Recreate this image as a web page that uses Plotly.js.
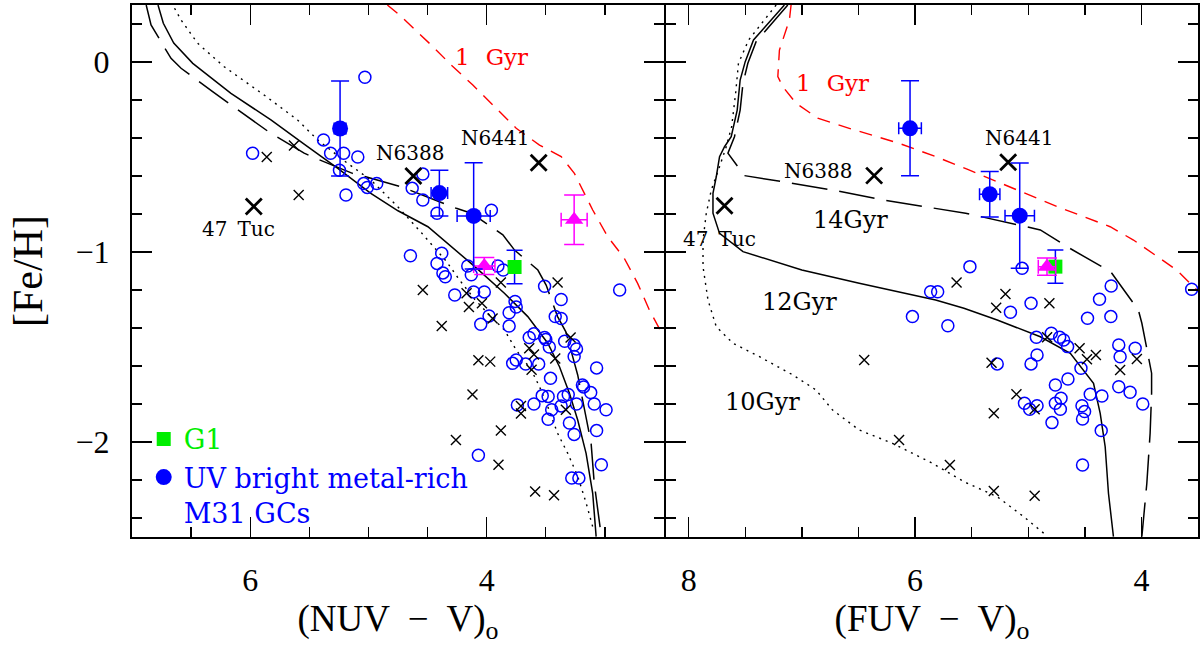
<!DOCTYPE html>
<html>
<head>
<meta charset="utf-8">
<script src="https://cdn.plot.ly/plotly-3.0.1.min.js"></script>
<style>html,body{margin:0;padding:0;background:#fff;}#chart{width:1203px;height:645px;}</style>
</head>
<body>
<div id="chart"></div>
<script>
// ---------- Left panel: (NUV - V)o ----------
const nuvOpenX = [5.03,5.38,5.98,5.32,5.21,5.09,5.245,5.04,5.01,4.93,5.19,
  4.54,4.63,4.54,4.42,3.96,4.645,4.38,4.42,4.16,4.13,3.905,3.86,4.37,4.35,
  4.27,4.11,4.02,3.76,3.75,3.81,3.81,3.98,4.05,3.51,3.37,3.42,3.37,2.875,3.64,3.60,3.51,3.50,
  3.47,3.34,3.26,3.24,3.26,3.07,3.75,3.78,3.67,3.56,3.46,3.19,3.18,3.12,3.53,3.48,3.35,3.31,
  3.24,3.09,2.99,3.60,3.74,3.45,3.37,3.48,3.30,3.26,3.07,4.07,3.03,3.28,3.22];
const nuvOpenY = [-0.08,-0.41,-0.48,-0.48,-0.48,-0.50,-0.57,-0.64,-0.66,-0.64,-0.70,
  -0.59,-0.665,-0.726,-0.796,-0.78,-1.02,-1.007,-1.06,-1.074,-1.12,-1.074,-1.095,-1.11,-1.13,
  -1.226,-1.21,-1.21,-1.26,-1.29,-1.32,-1.39,-1.337,-1.38,-1.18,-1.25,-1.34,-1.35,-1.20,-1.45,-1.43,-1.45,-1.46,
  -1.50,-1.47,-1.49,-1.51,-1.55,-1.61,-1.568,-1.586,-1.59,-1.59,-1.665,-1.70,-1.71,-1.74,-1.756,-1.76,-1.76,-1.75,
  -1.80,-1.80,-1.83,-1.80,-1.805,-1.83,-1.81,-1.88,-1.90,-1.96,-1.94,-2.07,-2.12,-2.19,-2.19];
const nuvCrossX = [5.86,5.63,5.59,4.54,4.17,4.15,4.04,3.88,3.95,4.38,3.40,3.29,4.07,3.97,3.64,3.60,3.62,3.42,4.12,3.71,3.71,3.33,3.88,4.26,3.90,3.59,3.43];
const nuvCrossY = [-0.50,-0.44,-0.70,-1.20,-1.217,-1.29,-1.27,-1.16,-1.35,-1.39,-1.16,-1.45,-1.57,-1.577,-1.507,-1.54,-1.62,-1.56,-1.75,-1.81,-1.85,-1.83,-1.94,-1.99,-2.12,-2.26,-2.28];
const clusterNames = ['47\u2002Tuc','N6388','N6441'];
const nuvClusterX = [5.97,4.62,3.56];
const nuvClusterY = [-0.76,-0.60,-0.53];
const nuvLabelX = [6.10,4.65,3.93];
const nuvLabelY = [-0.88,-0.48,-0.40];
const nuvBrightX = [5.24,4.40,4.11];
const nuvBrightY = [-0.35,-0.69,-0.81];
const nuvBrightEx = [0.05,0.07,0.14];
const nuvBrightEy = [0.25,0.12,0.28];
const nuvMagX = [3.26,4.02];
const nuvMagY = [-0.83,-1.074];
const nuvMagEx = [0.11,0.09];
const nuvMagEy = [0.13,0.045];
const nuvG1X = [3.764], nuvG1Y = [-1.079], nuvG1Ey = [0.088];

const nuv12X = [6.78,6.735,6.647,6.486,6.163,5.825,5.544,5.262,4.98,4.75,4.497,4.10,3.85,3.652,3.483,3.384,3.30,3.23,3.159,3.103,3.074];
const nuv12Y = [0.30,0.204,0.10,-0.007,-0.165,-0.305,-0.432,-0.559,-0.691,-0.783,-0.867,-1.077,-1.217,-1.34,-1.48,-1.604,-1.744,-1.884,-2.06,-2.27,-2.498];
const nuv14X = [6.88,6.839,6.67,6.585,6.318,6.22,5.94,5.845,5.544,5.445,5.135,5.023,4.727,4.257,4.13,3.863,3.764,3.567,3.497,3.40,3.33,3.23,3.117,3.09,3.03];
const nuv14Y = [0.30,0.195,0.019,-0.033,-0.156,-0.20,-0.323,-0.367,-0.48,-0.507,-0.586,-0.604,-0.656,-0.77,-0.796,-0.91,-0.99,-1.095,-1.174,-1.34,-1.42,-1.647,-2.004,-2.217,-2.498];
const nuv10X = [6.64,6.585,6.444,6.22,5.882,5.60,5.43,5.177,4.98,4.75,4.55,4.34,4.23,4.10,3.99,3.85,3.75,3.623,3.553,3.483,3.40,3.314,3.23,3.159,3.103];
const nuv10Y = [0.283,0.221,0.098,-0.025,-0.174,-0.305,-0.41,-0.533,-0.621,-0.763,-0.90,-1.05,-1.147,-1.25,-1.323,-1.41,-1.516,-1.62,-1.709,-1.814,-1.954,-2.06,-2.18,-2.32,-2.446];
const nuv1X = [4.84,4.736,4.455,4.30,4.117,3.933,3.75,3.553,3.37,3.258,3.103,2.976,2.836,2.723,2.624,2.51];
const nuv1Y = [0.30,0.247,0.081,-0.016,-0.121,-0.235,-0.349,-0.437,-0.498,-0.586,-0.779,-0.919,-1.033,-1.165,-1.305,-1.437];

// ---------- Right panel: (FUV - V)o ----------
const fuvOpenX = [5.515,5.054,5.862,5.80,5.71,5.157,4.975,4.476,4.37,4.267,4.27,3.556,5.274,4.975,4.922,4.928,4.796,4.722,4.687,4.652,
  4.534,4.20,4.188,4.055,4.76,4.649,4.452,4.349,4.20,4.10,3.988,5.033,4.987,4.922,4.76,4.71,4.716,4.525,4.502,4.52,4.79,4.355,4.52,6.023];
const fuvOpenY = [-1.077,-1.086,-1.209,-1.209,-1.388,-1.317,-1.27,-1.349,-1.249,-1.179,-1.34,-1.196,-1.589,-1.589,-1.542,-1.449,-1.428,-1.449,-1.463,-1.498,
  -1.612,-1.489,-1.551,-1.507,-1.70,-1.668,-1.749,-1.758,-1.709,-1.738,-1.80,-1.796,-1.828,-1.809,-1.796,-1.77,-1.828,-1.809,-1.84,-1.879,-1.898,-1.94,-2.121,-1.34];
const fuvCrossX = [5.633,5.201,5.283,4.813,4.833,4.546,4.481,4.402,4.188,4.04,5.324,5.104,4.943,5.304,5.692,5.304,4.943,6.449,6.141];
const fuvCrossY = [-1.161,-1.221,-1.293,-1.27,-1.449,-1.507,-1.565,-1.542,-1.621,-1.563,-1.583,-1.749,-1.828,-1.849,-2.121,-2.258,-2.283,-1.568,-1.989];
const fuvClusterX = [7.683,6.361,5.177];
const fuvClusterY = [-0.756,-0.598,-0.528];
const fuvLabelX = [7.727,6.86,5.084];
const fuvLabelY = [-0.933,-0.572,-0.402];
const fuvBrightX = [6.044,5.34,5.075];
const fuvBrightY = [-0.349,-0.696,-0.809];
const fuvBrightEx = [0.10,0.09,0.13];
const fuvBrightEy = [0.25,0.12,0.277];
const fuvMagX = [4.834], fuvMagY = [-1.077], fuvMagEx = [0.077], fuvMagEy = [0.045];
const fuvG1X = [4.76], fuvG1Y = [-1.077], fuvG1Ey = [0.088];

const fuv12X = [7.154,7.427,7.50,7.545,7.571,7.624,7.683,7.727,7.756,7.785,7.785,7.727,7.52,7.0,6.493,5.818,5.568,5.274,4.893,4.628,4.423,4.364,4.32,4.291,4.247];
const fuv12Y = [0.30,0.116,0.002,-0.095,-0.253,-0.393,-0.446,-0.498,-0.604,-0.691,-0.796,-0.902,-0.998,-1.095,-1.165,-1.253,-1.296,-1.358,-1.446,-1.533,-1.691,-1.849,-2.025,-2.27,-2.498];
const fuv14X = [7.124,7.404,7.477,7.52,7.545,7.595,7.653,7.507,7.168,6.728,6.287,5.818,5.553,5.084,4.893,4.657,4.27,4.027,3.996,3.91,3.91,3.923,3.952,3.996];
const fuv14Y = [0.30,0.107,-0.007,-0.112,-0.253,-0.393,-0.48,-0.598,-0.63,-0.674,-0.726,-0.77,-0.796,-0.858,-0.884,-0.972,-1.105,-1.305,-1.375,-1.638,-1.744,-1.954,-2.217,-2.498];
const fuv10X = [7.227,7.47,7.56,7.585,7.62,7.668,7.727,7.80,7.844,7.873,7.873,7.829,7.756,7.609,7.374,7.08,6.875,6.728,6.493,6.199,5.847,5.568,5.274,5.04,4.863];
const fuv10Y = [0.30,0.116,-0.007,-0.165,-0.34,-0.446,-0.551,-0.674,-0.796,-0.937,-1.077,-1.253,-1.393,-1.48,-1.551,-1.647,-1.726,-1.832,-1.937,-2.007,-2.112,-2.209,-2.288,-2.393,-2.48];
const fuv1X = [7.095,7.11,7.198,7.212,7.168,7.051,6.86,6.581,6.141,5.818,5.524,5.098,4.745,4.276,4.07,3.688,3.51];
const fuv1Y = [0.30,0.221,0.063,-0.077,-0.13,-0.217,-0.296,-0.349,-0.428,-0.498,-0.568,-0.674,-0.761,-0.867,-0.937,-1.095,-1.20];

// ---------- Labels ----------
const ageLabels = ['14Gyr','12Gyr','10Gyr'];
const ageLabelX = [6.566,7.022,7.345];
const ageLabelY = [-0.832,-1.261,-1.788];
const gyr1Text = '1\u2002\u2009Gyr';
const gyr1LabelX = [3.96, 6.728];
const gyr1LabelY = [0.028, -0.112];

const BLUE = '#0000ff', MAG = '#ff00ff', GREEN = '#00ee00', RED = '#ff0000';
const traces = [];
function panel(xa, ya, d, legend) {
  traces.push({x:d.c10x, y:d.c10y, xaxis:xa, yaxis:ya, mode:'lines', showlegend:false, hoverinfo:'skip',
    line:{color:'black', width:1.4, dash:'2px,5px'}});
  traces.push({x:d.c12x, y:d.c12y, xaxis:xa, yaxis:ya, mode:'lines', showlegend:false, hoverinfo:'skip',
    line:{color:'black', width:1.5}});
  traces.push({x:d.c14x, y:d.c14y, xaxis:xa, yaxis:ya, mode:'lines', showlegend:false, hoverinfo:'skip',
    line:{color:'black', width:1.5, dash:'36px,12px'}});
  traces.push({x:d.c1x, y:d.c1y, xaxis:xa, yaxis:ya, mode:'lines', showlegend:false, hoverinfo:'skip',
    line:{color:RED, width:1.4, dash:'13px,9px'}});
  traces.push({x:d.ox, y:d.oy, xaxis:xa, yaxis:ya, mode:'markers', showlegend:false,
    marker:{symbol:'circle-open', size:12, color:BLUE, line:{width:1.5, color:BLUE}}});
  traces.push({x:d.xx, y:d.xy, xaxis:xa, yaxis:ya, mode:'markers', showlegend:false,
    marker:{symbol:'x-thin', size:10, color:'black', line:{width:1.4, color:'black'}}});
  traces.push({x:d.cx, y:d.cy, xaxis:xa, yaxis:ya, mode:'markers', showlegend:false, text:clusterNames,
    marker:{symbol:'x-thin', size:16, color:'black', line:{width:2.8, color:'black'}}});
  traces.push({x:d.gx, y:d.gy, xaxis:xa, yaxis:ya, mode:'markers', name:'<span style="color:'+GREEN+'">G1</span>',
    showlegend:legend, legendrank:1,
    error_y:{type:'data', array:d.gey, color:BLUE, thickness:1.5, width:8},
    marker:{symbol:'square', size:14, color:GREEN}});
  traces.push({x:d.mx, y:d.my, xaxis:xa, yaxis:ya, mode:'markers', showlegend:false,
    error_x:{type:'data', array:d.mex, color:MAG, thickness:1.5, width:7},
    error_y:{type:'data', array:d.mey, color:MAG, thickness:1.5, width:10},
    marker:{symbol:'triangle-up', size:16, color:MAG}});
  traces.push({x:d.bx, y:d.by, xaxis:xa, yaxis:ya, mode:'markers',
    name:'<span style="color:'+BLUE+'">UV bright metal-rich<br>M31 GCs</span>',
    showlegend:legend, legendrank:2,
    error_x:{type:'data', array:d.bex, color:BLUE, thickness:1.5, width:6},
    error_y:{type:'data', array:d.bey, color:BLUE, thickness:1.5, width:9},
    marker:{symbol:'circle', size:16, color:BLUE}});
}
panel('x','y',{c10x:nuv10X,c10y:nuv10Y,c12x:nuv12X,c12y:nuv12Y,c14x:nuv14X,c14y:nuv14Y,c1x:nuv1X,c1y:nuv1Y,
  ox:nuvOpenX,oy:nuvOpenY,xx:nuvCrossX,xy:nuvCrossY,cx:nuvClusterX,cy:nuvClusterY,
  gx:nuvG1X,gy:nuvG1Y,gey:nuvG1Ey,mx:nuvMagX,my:nuvMagY,mex:nuvMagEx,mey:nuvMagEy,
  bx:nuvBrightX,by:nuvBrightY,bex:nuvBrightEx,bey:nuvBrightEy}, true);
panel('x2','y2',{c10x:fuv10X,c10y:fuv10Y,c12x:fuv12X,c12y:fuv12Y,c14x:fuv14X,c14y:fuv14Y,c1x:fuv1X,c1y:fuv1Y,
  ox:fuvOpenX,oy:fuvOpenY,xx:fuvCrossX,xy:fuvCrossY,cx:fuvClusterX,cy:fuvClusterY,
  gx:fuvG1X,gy:fuvG1Y,gey:fuvG1Ey,mx:fuvMagX,my:fuvMagY,mex:fuvMagEx,mey:fuvMagEy,
  bx:fuvBrightX,by:fuvBrightY,bex:fuvBrightEx,bey:fuvBrightEy}, false);

const TXT = 'DejaVu Serif';
const annotations = [];
clusterNames.forEach((n,i) => {
  annotations.push({xref:'x', yref:'y', x:nuvLabelX[i], y:nuvLabelY[i], text:n, showarrow:false,
    font:{family:TXT, size:20, color:'black'}});
  annotations.push({xref:'x2', yref:'y2', x:fuvLabelX[i], y:fuvLabelY[i], text:n, showarrow:false,
    font:{family:TXT, size:20, color:'black'}});
});
annotations.push({xref:'x', yref:'y', x:gyr1LabelX[0], y:gyr1LabelY[0], text:gyr1Text, showarrow:false,
  font:{family:TXT, size:23, color:RED}});
annotations.push({xref:'x2', yref:'y2', x:gyr1LabelX[1], y:gyr1LabelY[1], text:gyr1Text, showarrow:false,
  font:{family:TXT, size:23, color:RED}});
ageLabels.forEach((t,i) => annotations.push({xref:'x2', yref:'y2', x:ageLabelX[i], y:ageLabelY[i], text:t,
  showarrow:false, font:{family:TXT, size:24, color:'black'}}));

const TICKF = {family:'Liberation Serif', size:32, color:'black'};
function xax(dom, rng, title, anchor) {
  return {domain:dom, range:rng, anchor:anchor, dtick:2, tick0:0, ticks:'inside', ticklen:20, tickwidth:1.4,
    tickcolor:'black', minor:{dtick:0.5, tick0:0, ticks:'inside', ticklen:10, tickwidth:1.4, tickcolor:'black'},
    showline:true, linewidth:2, linecolor:'black', mirror:'ticks', showgrid:false, zeroline:false,
    tickfont:TICKF, ticklabelstandoff:14,
    title:{text:title, font:{family:'Liberation Serif', size:37, color:'black'}, standoff:13}};
}
function yax(anchor, labels) {
  return {domain:[0,1], range:[-2.5,0.3], anchor:anchor, dtick:1, tick0:0, ticks:'inside', ticklen:20, tickwidth:1.4,
    tickcolor:'black', minor:{dtick:0.2, tick0:0, ticks:'inside', ticklen:10, tickwidth:1.4, tickcolor:'black'},
    showline:true, linewidth:2, linecolor:'black', mirror:'ticks', showgrid:false, zeroline:false,
    showticklabels:labels, tickfont:TICKF, ticklabelstandoff:14};
}
const layout = {
  width:1203, height:645, margin:{l:132, r:5, t:5, b:108}, paper_bgcolor:'white', plot_bgcolor:'white',
  font:{family:'Liberation Serif', color:'black'},
  xaxis: xax([0,0.49906],[7.0,2.5],'(NUV  −  V)<sub>o</sub>','y'),
  xaxis2: xax([0.50094,1],[8.2,3.5],'(FUV  −  V)<sub>o</sub>','y2'),
  yaxis: Object.assign(yax('x', true), {title:{text:'[Fe/H]', font:{family:'Liberation Serif', size:42, color:'black'}, standoff:20}}),
  yaxis2: Object.assign(yax('x2', false), {matches:'y'}),
  showlegend:true,
  legend:{x:0.011, y:0.2295, xanchor:'left', yanchor:'top', valign:'top', bgcolor:'rgba(0,0,0,0)', borderwidth:0,
    font:{family:TXT, size:27, color:BLUE}, tracegroupgap:0, itemclick:false},
  annotations: annotations
};
Plotly.newPlot('chart', traces, layout, {displayModeBar:false, staticPlot:true});
</script>
</body>
</html>
